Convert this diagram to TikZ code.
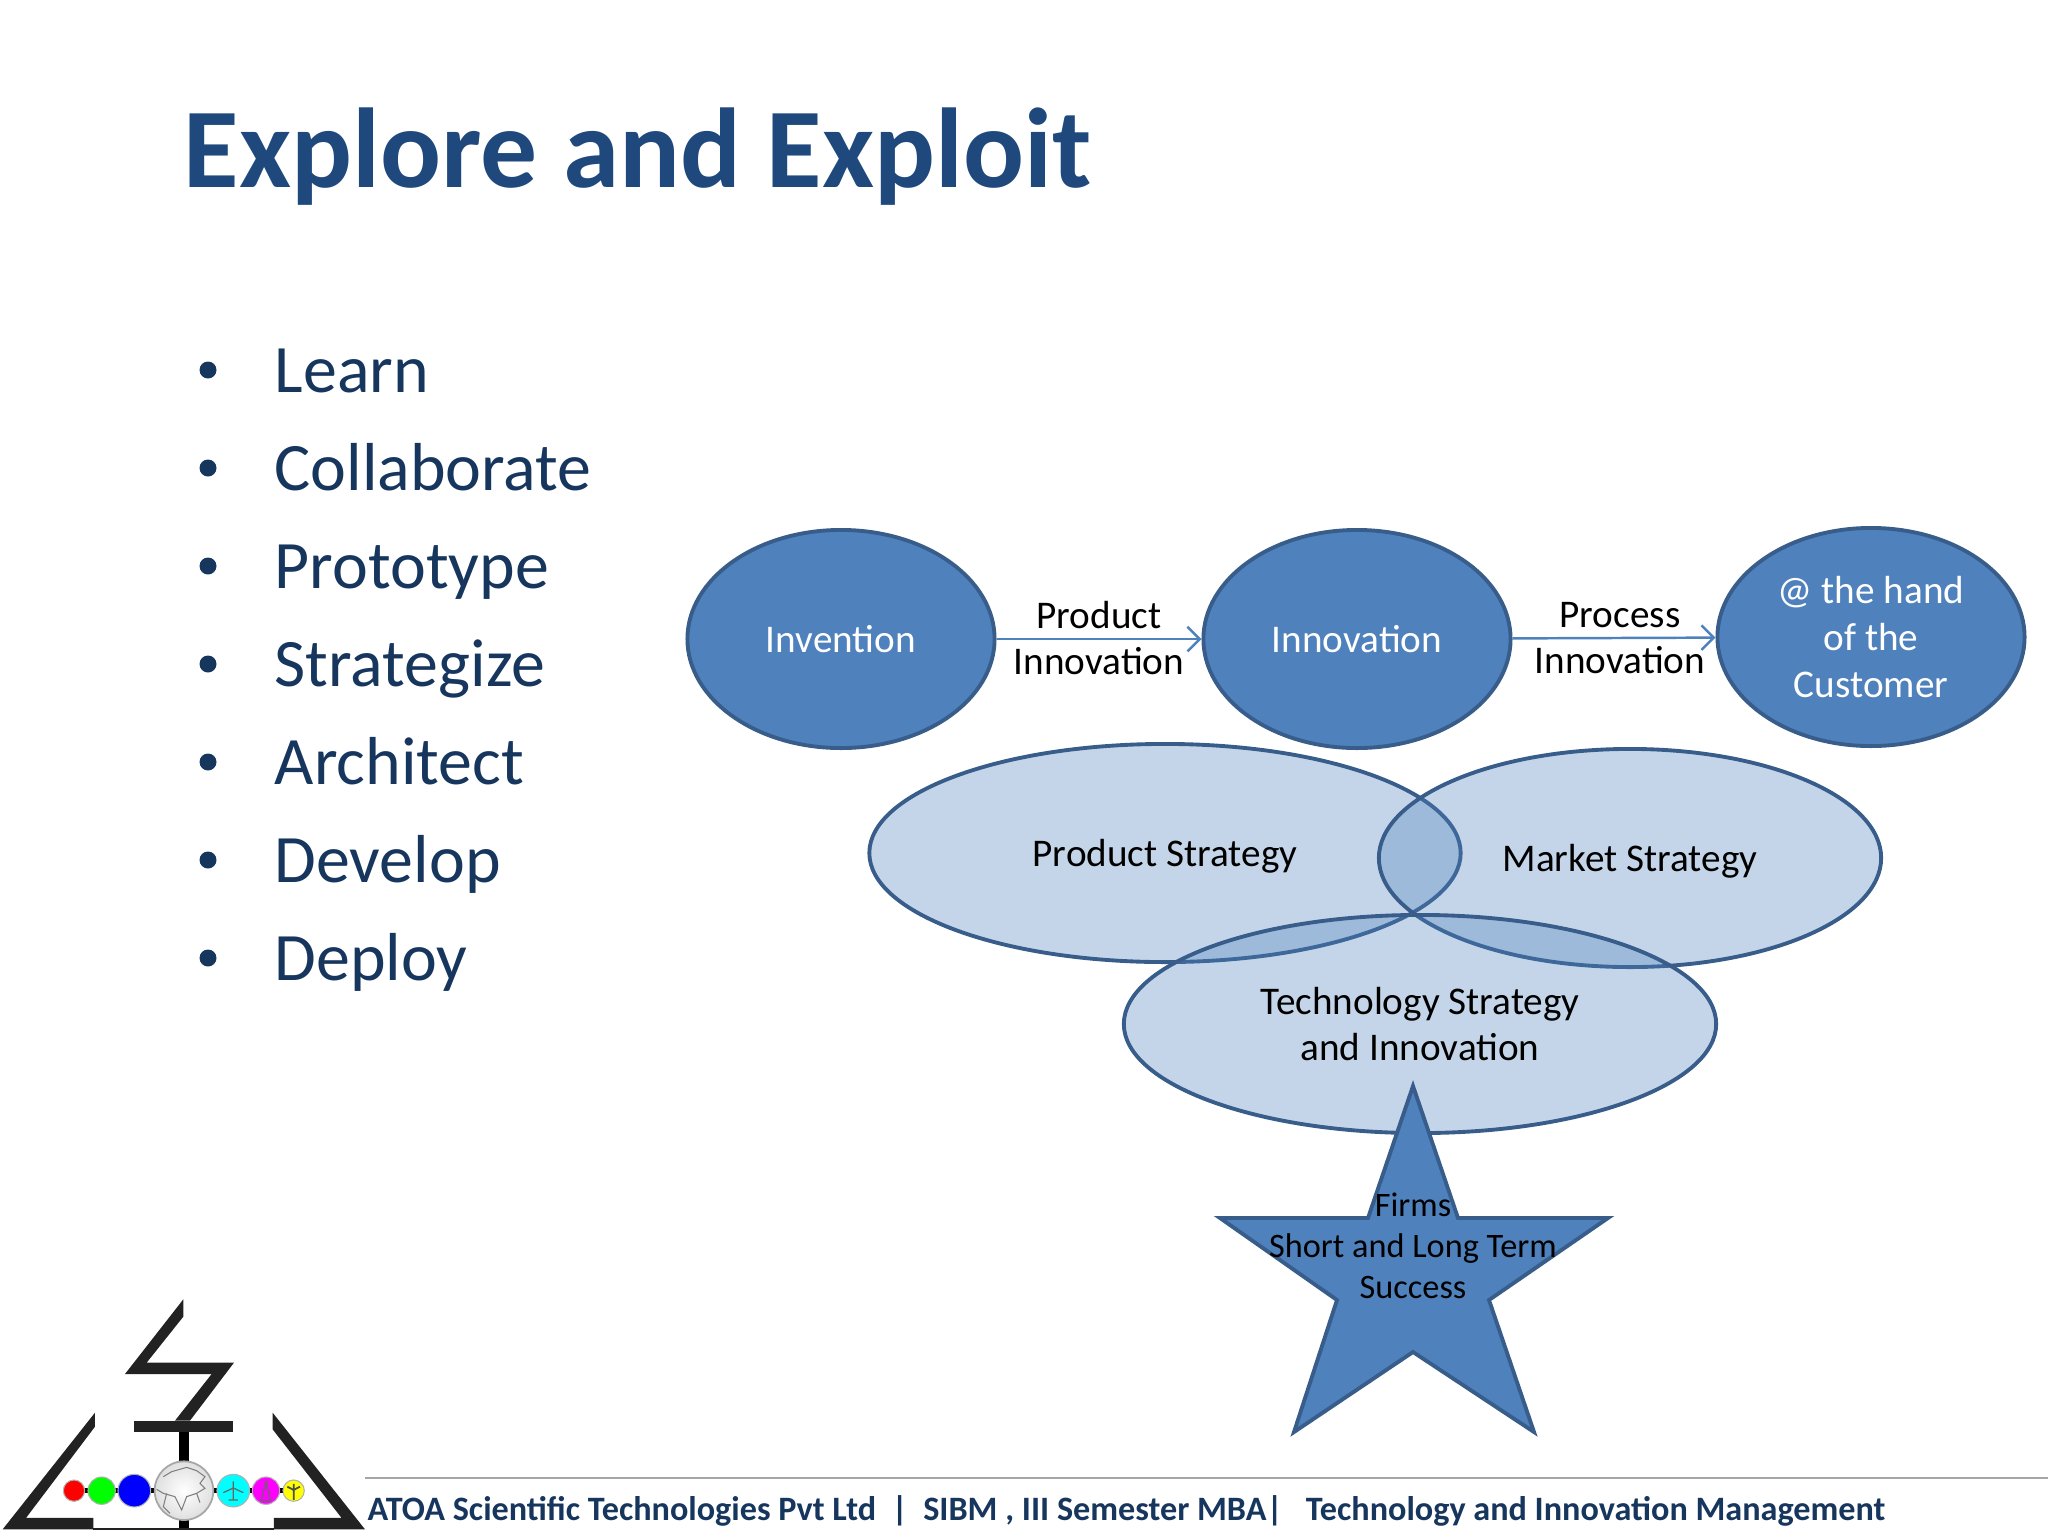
\documentclass[tikz,border=0pt]{standalone}
\usepackage{fontspec}
\setmainfont{Carlito}
\usetikzlibrary{positioning,arrows.meta,shapes.geometric}
\definecolor{slideblue}{HTML}{4F81BD}
\definecolor{edgeblue}{HTML}{385D8A}
\definecolor{titleblue}{HTML}{1F497D}
\definecolor{inkblue}{HTML}{17365D}
\definecolor{logoblack}{HTML}{222222}
\definecolor{logocyan}{HTML}{00FFFF}
\definecolor{logomagenta}{HTML}{FF00FF}
\definecolor{logoyellow}{HTML}{FFFF00}
\tikzset{
  stage/.style={ellipse,draw=edgeblue,line width=1.1pt,fill=slideblue,text=white,
    minimum width=3.07cm,minimum height=2.18cm,inner sep=0pt,align=center,
    font=\fontsize{11.15}{13.3}\selectfont},
  strategy/.style={ellipse,draw=edgeblue,line width=1.1pt,fill=slideblue,fill opacity=.33,
    text opacity=1,text=black,inner sep=0pt,minimum height=2.18cm,align=center,
    font=\fontsize{11.15}{13.3}\selectfont},
  flowlabel/.style={align=center,inner sep=0pt,font=\fontsize{11.15}{13.3}\selectfont},
  flow/.style={slideblue,line width=.7pt,-{Straight Barb[length=3.5pt,width=7pt]}},
  bullettext/.style={anchor=base west,inner sep=0pt,text=inkblue,font=\fontsize{19.3}{22}\selectfont},
}
\begin{document}
\begin{tikzpicture}[x=.01cm,y=-.01cm]
\useasboundingbox (0,0) rectangle (2048,1536);
\node[anchor=west,inner sep=0pt,text=titleblue,font=\fontsize{32.3}{36}\selectfont\bfseries] (title) at (183,157) {Explore and Exploit};
% Bullet list.
\foreach \y/\word in {370/Learn,468/Collaborate,566/Prototype,664/Strategize,762/Architect,860/Develop,958/Deploy}{
  \fill[inkblue] (208,\y) circle (8.5);
  \node[bullettext] (item\word) at (274,\y+22) {\word};
}
% Top row.
\node[stage] (invention) at (841,639) {Invention};
\node[stage] (innovation) at (1357,639) {Innovation};
\node[stage] (customer) at (1871,637) {@ the hand\\of the\\Customer};
\draw[flow] (invention) -- (innovation);
\draw[flow] (innovation) -- (customer);
\node[flowlabel] (productlabel) at (1099,638) {Product\\Innovation};
\node[flowlabel] (processlabel) at (1620,638) {Process\\Innovation};
% Overlapping strategies.
\node[strategy,minimum width=5.91cm,text depth=0pt] (product) at (1165,853) {Product Strategy};
\node[strategy,minimum width=5.02cm,text depth=0pt] (market) at (1630,858) {Market Strategy};
\node[strategy,minimum width=5.92cm] (technology) at (1420,1024) {Technology Strategy\\and Innovation};
% Star.
\draw[edgeblue,line width=1.1pt,fill=slideblue] (1413,1086) -- (1458,1218) -- (1608,1218) -- (1489,1300)
  -- (1534,1432) -- (1413,1352) -- (1294,1432) -- (1337,1300) -- (1220,1218) -- (1368,1218) -- cycle;
\node[align=center,inner sep=0pt,font=\fontsize{9.75}{11.7}\selectfont] (success) at (1413,1246) {Firms\\Short and Long Term\\Success};
% Footer.
\draw[gray!70,line width=.5pt] (365,1478) -- (2048,1478);
\node[anchor=west,inner sep=0pt,text=inkblue,font=\fontsize{9.72}{12}\selectfont\bfseries] (footer) at (367,1511)
  {ATOA Scientific Technologies Pvt Ltd\ \ |\ \ SIBM , III Semester MBA|\ \ \ Technology and Innovation Management};
% Logo, in units of the zoomed crop.
\begin{scope}[shift={(0,1280)},scale=.3333]
\fill[logoblack] (550,58) -- (550,110) -- (440,248) -- (702,248) -- (570,422) -- (525,422) -- (635,282) -- (375,282) -- cycle;
\fill[logoblack] (402,422) rectangle (700,456);
\fill[black] (537,456) rectangle (567,748);
\fill[logoblack] (285,398) -- (285,440) -- (78,714) -- (280,714) -- (280,748) -- (8,748) -- cycle;
\fill[logoblack] (818,398) -- (818,448) -- (1025,714) -- (822,714) -- (822,748) -- (1095,748) -- cycle;
\draw[logoblack,line width=.6pt] (280,746) -- (822,746);
\fill[black] (222,625) rectangle (881,639);
\foreach \cx/\rr/\col in {222/32/red,305/41/green,403/49/blue,700/49/logocyan,798/41/logomagenta,881/32/logoyellow}{
  \fill[\col] (\cx,632) circle (\rr);
  \draw[gray!60,line width=.3pt] (\cx,632) circle (\rr);
}
% Globe.
\shade[inner color=white,outer color=gray!25] (552,632) circle (88);
\draw[gray!70,line width=.5pt] (552,632) circle (88);
\draw[gray,line width=.3pt] (490,590) -- (515,575) -- (560,562) -- (590,572) -- (615,590) -- (600,610) -- (615,625) -- (590,640) -- (600,668)
  (590,640) -- (560,650) -- (545,690) -- (525,650) -- (490,640) -- (470,628) (500,640) -- (490,680) -- (510,700);
% Icons on the small balls.
\draw[black!60,line width=.35pt] (700,604) -- (700,662) (670,638) -- (700,624) -- (730,638) (686,660) -- (714,660);
\draw[black!60,line width=.35pt] (798,604) -- (784,662) -- (812,662) -- cycle;
\draw[black!70,line width=.5pt] (881,612) -- (881,660) (862,620) -- (881,630) -- (900,620);
\end{scope}
\end{tikzpicture}
\end{document}
